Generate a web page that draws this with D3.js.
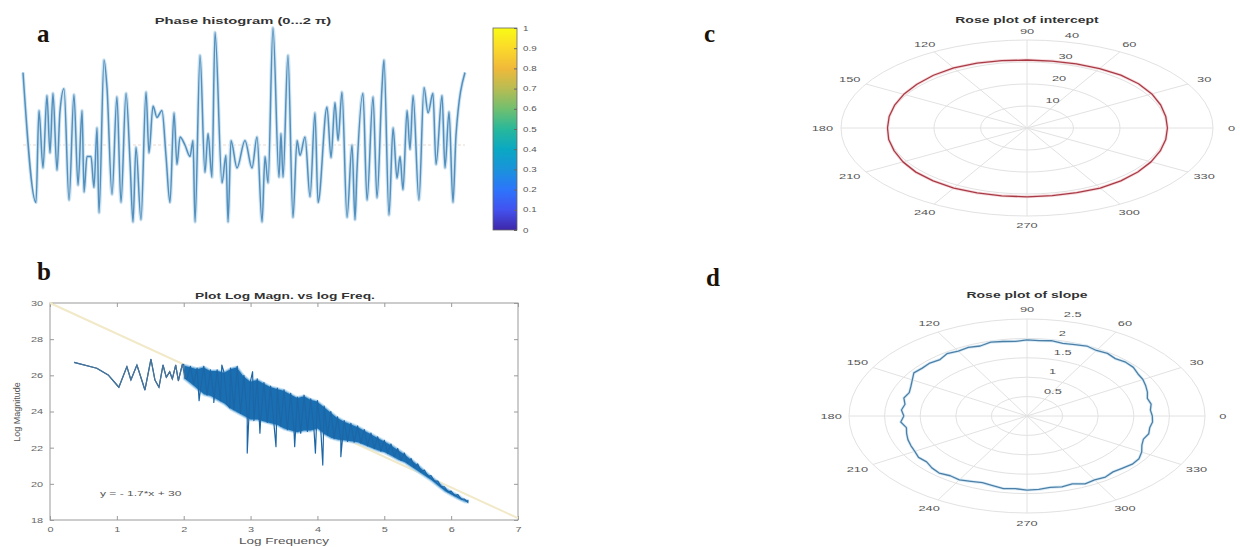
<!DOCTYPE html>
<html>
<head>
<meta charset="utf-8">
<script src="https://cdn.jsdelivr.net/npm/d3@7"></script>
<style>
  body { margin: 0; background: #fff; }
  svg { display: block; }
  text { font-family: "Liberation Sans", Arial, sans-serif; }
</style>
</head>
<body>
<div id="chart"></div>
<script>
// ---------- panel a : phase histogram ----------
const phaseDeg = [0,10.6,13.0,16.3,19.5,22.0,24.4,27.7,30.1,33.4,
  37.5,41.5,44.8,48.1,49.7,52.1,55.4,57.8,60.3,61.9,
  66.0,68.4,72.5,76.5,79.8,83.9,87.2,89.6,92.0,96.1,
  100.2,102.6,105.9,109.1,113.2,116.5,119.7,123.0,125.4,127.9,
  131.9,136.0,138.5,140.1,144.2,148.2,150.7,153.9,156.4,162.1,
  165.3,167.0,169.4,174.3,180.8,186.5,190.6,194.7,197.1,199.6,
  203.6,208.5,210.1,211.8,215.8,219.9,223.2,225.6,229.7,233.8,
  237.8,240.3,247.6,250.9,254.1,256.6,259.8,263.9,268.0,270.4,
  272.0,276.9,280.2,285.1,288.3,292.4,294.0,298.1,301.4,304.6,
  307.1,309.5,312.8,315.2,317.7,322.5,326.6,329.9,333.9,336.4,
  341.3,343.7,347.0,350.2,352.7,360];
const phaseVal = [0.63,-0.50,0.30,-0.20,0.43,-0.07,0.45,-0.22,0.29,0.49,
  -0.48,0.44,-0.35,0.30,-0.41,-0.10,-0.10,-0.37,0.15,-0.59,
  0.74,0.50,-0.43,0.42,-0.50,0.45,-0.15,-0.67,-0.02,-0.65,
  0.46,-0.07,0.34,0.24,0.30,-0.10,-0.50,0.28,-0.17,0.07,
  0.00,-0.10,0.04,-0.67,0.78,-0.24,0.10,-0.28,0.98,-0.33,
  -0.09,-0.67,0.04,-0.20,0.04,-0.20,0.07,-0.67,-0.10,-0.33,
  1.02,-0.28,0.10,-0.28,0.78,-0.63,0.04,-0.09,0.07,-0.45,
  0.28,-0.50,0.33,-0.11,0.37,0.04,0.46,-0.63,0.00,-0.65,
  -0.23,0.45,-0.48,0.42,-0.46,0.50,0.74,-0.61,0.15,-0.29,
  -0.10,-0.39,0.30,-0.04,0.43,-0.48,0.50,0.28,0.45,-0.17,
  0.43,-0.20,0.29,-0.50,0.09,0.63];

// colorbar (parula-like)
const cbTicks = [0,0.1,0.2,0.3,0.4,0.5,0.6,0.7,0.8,0.9,1];
const cbColors = ["#3e26a8","#4352ef","#2d75fb","#1a93db","#0aa8c3","#29b89a",
  "#71bf6f","#b8bc52","#f0b93a","#fbd92a","#f9fb15"];

// ---------- panel b : log magnitude vs log frequency ----------
const xTicksB = [0,1,2,3,4,5,6,7];
const yTicksB = [18,20,22,24,26,28,30];
const fitX = [0,7];
const fitY = [30,18.1];
const sparseX = [0.36,0.70,0.87,1.03,1.15,1.21,1.30,1.42,1.51,1.57,1.63,1.69,1.74,1.79,1.83,1.88,1.92,1.98,2.02];
const sparseY = [26.72,26.39,26.02,25.34,26.48,25.74,26.57,25.19,26.89,25.74,25.34,26.57,25.89,26.2,25.8,26.57,25.7,26.61,25.84];
const denseX = [2.0,2.1,2.2,2.3,2.4,2.5,2.6,2.7,2.8,2.9,3.0,3.1,3.2,3.3,3.4,3.5,3.6,3.7,3.8,3.9,
  4.0,4.1,4.2,4.3,4.4,4.5,4.6,4.7,4.8,4.9,5.0,5.1,5.2,5.3,5.4,5.5,5.6,5.7,5.8,5.9,6.0,6.1,6.2,6.25];
const denseHi = [26.6,26.5,26.4,26.5,26.3,26.3,26.2,26.4,26.5,26.0,25.7,25.8,25.6,25.4,25.3,25.2,25.0,24.8,24.9,24.7,
  24.6,24.3,24.0,23.7,23.5,23.35,23.2,23.0,22.8,22.6,22.4,22.2,21.95,21.7,21.4,21.1,20.76,20.45,20.15,19.84,19.6,19.4,19.15,19.1];
const denseLo = [25.8,25.5,25.2,24.9,24.8,24.6,24.4,24.1,23.9,23.7,23.5,23.5,23.4,23.3,23.2,23.0,22.9,22.8,22.9,22.9,
  23.0,22.7,22.5,22.4,22.35,22.3,22.25,22.1,21.95,21.8,21.7,21.5,21.3,21.15,20.9,20.65,20.4,20.15,19.85,19.56,19.35,19.15,18.98,18.95];
const spikeX = [2.23,2.45,2.57,2.69,2.95,3.03,3.14,3.38,3.66,3.97,4.08,4.35];
const spikeY = [24.6,24.5,26.57,24.2,21.7,26.2,22.8,22.05,22.05,21.7,21.04,21.5];

// ---------- panels c, d : rose plots ----------
const polarAngles = [0,30,60,90,120,150,180,210,240,270,300,330];
const interceptRings = [10,20,30,40];
const interceptAngle = [0,10,20,30,40,50,60,70,80,90,100,110,120,130,140,150,160,170,
  180,190,200,210,220,230,240,250,260,270,280,290,300,310,320,330,340,350];
const interceptR = [30.2,30.3,30.6,31.0,31.3,31.4,31.2,31.0,30.9,30.9,31.1,31.4,31.5,31.3,30.9,30.6,30.3,30.1,
  30.0,30.2,30.4,30.8,31.2,31.4,31.5,31.4,31.3,31.3,31.2,31.3,31.5,31.4,31.1,30.8,30.5,30.3];
const slopeRings = [0.5,1,1.5,2,2.5];
const slopeAngle = d3.range(0, 360, 5);
const slopeR = [1.76,1.74,1.77,1.75,1.80,1.84,1.88,1.90,1.95,1.96,1.93,1.97,1.95,1.99,1.96,1.94,1.97,1.95,
  1.96,1.93,1.95,1.97,1.92,1.95,1.93,1.96,1.90,1.93,1.92,1.94,1.86,1.80,1.76,1.79,1.74,1.77,
  1.73,1.78,1.72,1.75,1.78,1.80,1.82,1.86,1.84,1.89,1.92,1.88,1.90,1.86,1.83,1.86,1.90,1.88,
  1.91,1.90,1.87,1.89,1.86,1.93,1.90,1.92,1.88,1.90,1.93,1.92,1.86,1.78,1.74,1.77,1.75,1.77];

const W = 1240, H = 547;
const svg = d3.select("#chart").append("svg").attr("width", W).attr("height", H);
svg.append("rect").attr("width", W).attr("height", H).attr("fill", "#fff");

// the source figure is stretched sideways, so small text gets widened too
function stretch(sel, f) {
  sel.each(function () {
    const len = this.getComputedTextLength();
    d3.select(this).attr("textLength", len * f).attr("lengthAdjust", "spacingAndGlyphs");
  });
  return sel;
}

function panelLetter(t, x, y) {
  svg.append("text").text(t)
    .attr("x", x).attr("y", y)
    .style("font-family", "'Liberation Serif', 'Times New Roman', serif")
    .style("font-weight", "bold").style("font-size", "25px")
    .attr("fill", "#1a1208");
}
panelLetter("a", 37, 42);
panelLetter("b", 37, 280);
panelLetter("c", 704, 42);
panelLetter("d", 706, 286);

// ----------------------------------
// PANEL A
// ----------------------------------
const xA = d3.scaleLinear().domain([0, 360]).range([23, 465]);
const yA = d3.scaleLinear().domain([-1, 1]).range([260, 30]);
const gA = svg.append("g");

stretch(gA.append("text").text("Phase histogram (0...2 π)")
  .attr("x", 243).attr("y", 24).attr("text-anchor", "middle")
  .style("font-size", "9.5px").style("font-weight", "bold").attr("fill", "#333"), 1.55);

gA.append("line")
  .attr("x1", xA(0)).attr("x2", xA(360)).attr("y1", yA(0)).attr("y2", yA(0))
  .attr("stroke", "#ead9cf").attr("stroke-width", 1).attr("stroke-dasharray", "3,2");

const lineA = d3.line().x(d => xA(d[0])).y(d => yA(d[1])).curve(d3.curveMonotoneX);
const phasePts = phaseDeg.map((d, i) => [d, phaseVal[i]]);
gA.append("path").datum(phasePts).attr("d", lineA)
  .attr("fill", "none").attr("stroke", "#cfe4f2").attr("stroke-width", 3.5).attr("stroke-linejoin", "round");
gA.append("path").datum(phasePts).attr("d", lineA)
  .attr("fill", "none").attr("stroke", "#5490bd").attr("stroke-width", 1.5).attr("stroke-linejoin", "round");

// colorbar
const cbY = d3.scaleLinear().domain([0, 1]).range([230, 28]);
const grad = svg.append("defs").append("linearGradient")
  .attr("id", "parula").attr("x1", 0).attr("x2", 0).attr("y1", 1).attr("y2", 0);
cbColors.forEach((c, i) => grad.append("stop").attr("offset", i / (cbColors.length - 1)).attr("stop-color", c));
gA.append("rect").attr("x", 493).attr("y", cbY(1)).attr("width", 24).attr("height", cbY(0) - cbY(1))
  .attr("fill", "url(#parula)").attr("stroke", "#666").attr("stroke-width", 0.8);
const cbAxis = d3.axisRight(cbY).tickValues(cbTicks).tickSize(-3).tickPadding(6).tickFormat(d3.format("~g"));
const cbG = gA.append("g").attr("transform", "translate(517,0)").call(cbAxis);
cbG.select(".domain").remove();
cbG.selectAll(".tick line").attr("stroke", "#666");
cbG.selectAll(".tick text").attr("fill", "#555").style("font-size", "6.5px")
  .style("font-family", "'Liberation Sans', Arial, sans-serif");
stretch(cbG.selectAll(".tick text"), 1.5);

// ----------------------------------
// PANEL B
// ----------------------------------
const xB = d3.scaleLinear().domain([0, 7]).range([50, 518]);
const yB = d3.scaleLinear().domain([18, 30]).range([520, 303]);
const gB = svg.append("g");

stretch(gB.append("text").text("Plot Log Magn. vs log Freq.")
  .attr("x", 285).attr("y", 299).attr("text-anchor", "middle")
  .style("font-size", "9.5px").style("font-weight", "bold").attr("fill", "#333"), 1.45);

gB.append("rect").attr("x", xB(0)).attr("y", yB(30)).attr("width", xB(7) - xB(0)).attr("height", yB(18) - yB(30))
  .attr("fill", "#fff").attr("stroke", "#9a9a9a").attr("stroke-width", 1);

function styleAxis(g, showLabels) {
  g.select(".domain").remove();
  g.selectAll(".tick line").attr("stroke", "#9a9a9a");
  g.selectAll(".tick text").attr("fill", "#666").style("font-size", "7.5px")
    .style("font-family", "'Liberation Sans', Arial, sans-serif");
  if (showLabels) stretch(g.selectAll(".tick text"), 1.45);
}
const axB = gB.append("g").attr("transform", `translate(0,${yB(18)})`)
  .call(d3.axisBottom(xB).tickValues(xTicksB).tickSize(-4).tickPadding(7).tickFormat(d3.format("d")));
styleAxis(axB, true);
const ayB = gB.append("g").attr("transform", `translate(${xB(0)},0)`)
  .call(d3.axisLeft(yB).tickValues(yTicksB).tickSize(-4).tickPadding(7).tickFormat(d3.format("d")));
styleAxis(ayB, true);
styleAxis(gB.append("g").attr("transform", `translate(0,${yB(30)})`)
  .call(d3.axisTop(xB).tickValues(xTicksB).tickSize(-4).tickFormat("")), false);
styleAxis(gB.append("g").attr("transform", `translate(${xB(7)},0)`)
  .call(d3.axisRight(yB).tickValues(yTicksB).tickSize(-4).tickFormat("")), false);

// fitted line
gB.append("line")
  .attr("x1", xB(fitX[0])).attr("y1", yB(fitY[0])).attr("x2", xB(fitX[1])).attr("y2", yB(fitY[1]))
  .attr("stroke", "#f1e9c8").attr("stroke-width", 2);

// dense spectrum band
const bandPts = denseX.map((x, i) => ({ x: x, hi: denseHi[i], lo: denseLo[i] }));
gB.append("path").datum(bandPts)
  .attr("d", d3.area().x(d => xB(d.x)).y0(d => yB(d.lo)).y1(d => yB(d.hi)))
  .attr("fill", "#1a6fb3").attr("stroke", "#b9dcf2").attr("stroke-width", 2).attr("stroke-opacity", 0.7);

// the spectrum itself: sparse start, zig-zag through the band, plus spikes
let specPts = sparseX.map((x, i) => [x, sparseY[i]]);
denseX.forEach((x, i) => {
  specPts.push([x, denseHi[i]]);
  if (i < denseX.length - 1) specPts.push([x + 0.05, denseLo[i]]);
});
spikeX.forEach((x, i) => specPts.push([x, spikeY[i]]));
specPts.sort((a, b) => a[0] - b[0]);
gB.append("path").datum(specPts)
  .attr("d", d3.line().x(d => xB(d[0])).y(d => yB(d[1])))
  .attr("fill", "none").attr("stroke", "#1d66a6").attr("stroke-width", 1.2).attr("stroke-linejoin", "round");
gB.append("path").datum(sparseX.map((x, i) => [x, sparseY[i]]))
  .attr("d", d3.line().x(d => xB(d[0])).y(d => yB(d[1])))
  .attr("fill", "none").attr("stroke", "#4b7396").attr("stroke-width", 1.2);

stretch(gB.append("text").text("y = - 1.7*x + 30")
  .attr("x", 100).attr("y", 496)
  .style("font-size", "8px").attr("fill", "#555"), 1.5);

stretch(gB.append("text").text("Log Frequency")
  .attr("x", 284).attr("y", 544).attr("text-anchor", "middle")
  .style("font-size", "9px").attr("fill", "#555"), 1.5);
gB.append("text").text("Log Magnitude")
  .attr("transform", "translate(20,412) rotate(-90)").attr("text-anchor", "middle")
  .style("font-size", "9px").attr("fill", "#555");

// ----------------------------------
// PANELS C AND D (rose plots)
// ----------------------------------
function rosePlot(o) {
  const g = svg.append("g");
  const rX = d3.scaleLinear().domain([0, o.rmax]).range([0, o.rx]);
  const rY = d3.scaleLinear().domain([0, o.rmax]).range([0, o.ry]);
  const px = (a, r) => o.cx + rX(r) * Math.cos(a * Math.PI / 180);
  const py = (a, r) => o.cy - rY(r) * Math.sin(a * Math.PI / 180);

  // rings
  g.selectAll("ellipse.ring").data(o.rings).enter().append("ellipse")
    .attr("cx", o.cx).attr("cy", o.cy)
    .attr("rx", d => rX(d)).attr("ry", d => rY(d))
    .attr("fill", "none").attr("stroke", "#e2e2e2").attr("stroke-width", 1);
  // spokes
  g.selectAll("line.spoke").data(polarAngles).enter().append("line")
    .attr("x1", o.cx).attr("y1", o.cy)
    .attr("x2", d => px(d, o.rmax)).attr("y2", d => py(d, o.rmax))
    .attr("stroke", "#e2e2e2").attr("stroke-width", 1);

  // angle labels
  const al = g.selectAll("text.ang").data(polarAngles).enter().append("text")
    .text(d => d)
    .attr("x", d => px(d, o.rmax * 1.1)).attr("y", d => py(d, o.rmax * 1.1))
    .attr("dy", "0.35em").attr("text-anchor", "middle")
    .style("font-size", "8px").attr("fill", "#555");
  stretch(al, 1.6);

  // ring labels
  const rl = g.selectAll("text.rl").data(o.rings).enter().append("text")
    .text(d => d)
    .attr("x", d => px(82, d) + 12).attr("y", d => py(82, d) - 6)
    .attr("dy", "0.35em")
    .style("font-size", "8px").attr("fill", "#555");
  stretch(rl, 1.6);

  // curve
  const pts = o.angle.map((a, i) => [a, o.r[i]]);
  const curve = d3.line().x(d => px(d[0], d[1])).y(d => py(d[0], d[1])).curve(d3.curveLinearClosed);
  g.append("path").datum(pts).attr("d", curve)
    .attr("fill", "none").attr("stroke", o.halo).attr("stroke-width", 3);
  g.append("path").datum(pts).attr("d", curve)
    .attr("fill", "none").attr("stroke", o.color).attr("stroke-width", 1.3).attr("stroke-linejoin", "round");

  stretch(g.append("text").text(o.title)
    .attr("x", o.cx).attr("y", o.titleY).attr("text-anchor", "middle")
    .style("font-size", "9px").style("font-weight", "bold").attr("fill", "#333"), 1.55);
}

rosePlot({
  cx: 1027, cy: 128, rx: 186, ry: 88, rmax: 40,
  rings: interceptRings, angle: interceptAngle, r: interceptR,
  color: "#a83a45", halo: "#f6dadd",
  title: "Rose plot of intercept", titleY: 23
});
rosePlot({
  cx: 1027, cy: 416, rx: 178, ry: 97, rmax: 2.5,
  rings: slopeRings, angle: slopeAngle, r: slopeR,
  color: "#4d7fa6", halo: "#d9ecf7",
  title: "Rose plot of slope", titleY: 298
});
</script>
</body>
</html>
